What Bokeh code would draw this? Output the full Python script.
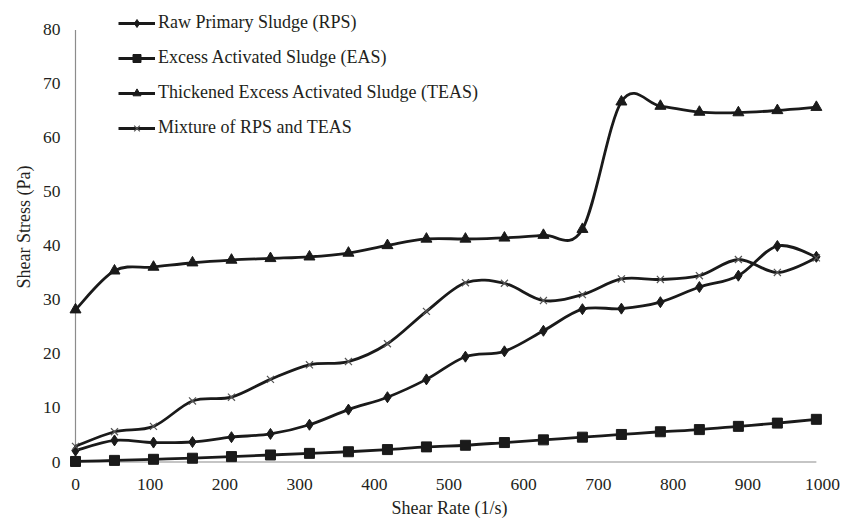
import numpy as np
from bokeh.plotting import figure
from bokeh.models import FixedTicker, Range1d, Legend, LegendItem, Title
from bokeh.embed import file_html
from bokeh.resources import INLINE

# ---------------- data ----------------
shear_rate = [0, 52.2, 104.4, 156.6, 208.8, 261.0, 313.2, 365.4, 417.6, 469.8,
              522.0, 574.2, 626.4, 678.6, 730.8, 783.0, 835.2, 887.4, 939.6, 991.8]
rps = [2.1, 4.0, 3.6, 3.7, 4.6, 5.2, 6.9, 9.7, 12.0, 15.3,
       19.5, 20.5, 24.3, 28.3, 28.4, 29.6, 32.4, 34.5, 40.0, 38.0]
eas = [0.1, 0.3, 0.5, 0.7, 1.0, 1.3, 1.6, 1.9, 2.3, 2.8,
       3.1, 3.6, 4.1, 4.6, 5.1, 5.6, 6.0, 6.6, 7.2, 7.9]
teas = [28.2, 35.4, 36.1, 36.9, 37.4, 37.7, 38.0, 38.7, 40.1, 41.3,
        41.3, 41.5, 42.0, 43.1, 66.7, 65.9, 64.8, 64.7, 65.1, 65.7]
mix = [2.9, 5.6, 6.6, 11.3, 12.0, 15.3, 18.0, 18.6, 21.9, 27.9,
       33.2, 33.1, 29.9, 31.0, 33.9, 33.8, 34.5, 37.5, 35.1, 37.8]
series_names = ["Raw Primary Sludge (RPS)", "Excess Activated Sludge (EAS)",
                "Thickened Excess Activated Sludge (TEAS)", "Mixture of RPS and TEAS"]
x_ticks = [0, 100, 200, 300, 400, 500, 600, 700, 800, 900, 1000]
y_ticks = [0, 10, 20, 30, 40, 50, 60, 70, 80]

# ---------------- style ----------------
FONT = "Liberation Serif"
TXT = "#231f20"
LINE = "#1a1a1a"
AXIS = "#8c8c8c"

p = figure(width=843, height=519, frame_width=766, frame_height=462,
           min_border_left=66, min_border_right=11, min_border_top=8, min_border_bottom=49,
           x_range=Range1d(-12.05, 1013.4), y_range=Range1d(-1.574, 83.98),
           output_backend="svg", toolbar_location=None)
p.outline_line_color = None
p.grid.visible = False
p.background_fill_color = "white"
p.border_fill_color = "white"

for ax in (p.xaxis[0], p.yaxis[0]):
    ax.axis_line_color = None
    ax.major_tick_line_color = None
    ax.minor_tick_line_color = None
    ax.major_tick_out = 0
    ax.major_tick_in = 0
    ax.minor_tick_out = 0
    ax.minor_tick_in = 0
    ax.major_label_text_font = FONT
    ax.major_label_text_font_size = "17.5px"
    ax.major_label_text_color = TXT

p.xaxis.ticker = FixedTicker(ticks=x_ticks)
p.yaxis.ticker = FixedTicker(ticks=y_ticks)
p.xaxis.major_label_standoff = 8
p.yaxis.major_label_standoff = 6
p.xaxis.axis_label = "Shear Rate (1/s)"
p.xaxis.axis_label_text_font = FONT
p.xaxis.axis_label_text_font_size = "18px"
p.xaxis.axis_label_text_font_style = "normal"
p.xaxis.axis_label_text_color = TXT
p.xaxis.axis_label_standoff = 5

p.add_layout(Title(text="Shear Stress (Pa)", align="left", offset=182,
                   text_font=FONT, text_font_size="18px", text_font_style="normal",
                   text_color=TXT, standoff=12), "left")

# axis lines
p.segment(x0=[shear_rate[0]], y0=[y_ticks[0]], x1=[shear_rate[-1]], y1=[y_ticks[0]],
          line_color=AXIS, line_width=1.2)
p.segment(x0=[x_ticks[0]], y0=[y_ticks[0]], x1=[x_ticks[0]], y1=[y_ticks[-1]],
          line_color=AXIS, line_width=1.2)


def smooth(xs, ys):
    xs = np.asarray(xs, float)
    ys = np.asarray(ys, float)
    n = len(xs)
    xp = np.concatenate([[xs[0]], xs, [xs[-1]]])
    yp = np.concatenate([[ys[0]], ys, [ys[-1]]])
    cx0 = xp[1:n] + (xp[2:n + 1] - xp[0:n - 1]) / 6
    cy0 = yp[1:n] + (yp[2:n + 1] - yp[0:n - 1]) / 6
    cx1 = xp[2:n + 1] - (xp[3:n + 2] - xp[1:n]) / 6
    cy1 = yp[2:n + 1] - (yp[3:n + 2] - yp[1:n]) / 6
    return dict(x0=xs[:-1], y0=ys[:-1], x1=xs[1:], y1=ys[1:],
                cx0=cx0, cy0=cy0, cx1=cx1, cy1=cy1)


markers = [("diamond", 11, LINE, 1), ("square", 10, LINE, 1),
           ("triangle", 11, LINE, 1), ("x", 10, "#555555", 1.2)]
all_series = [rps, eas, teas, mix]

# off-canvas sample so the legend can draw a line swatch
off_x = [-9000, -8000]
off_y = [-9000, -9000]

items = []
for name, ys, (mk, sz, mcol, mlw) in zip(series_names, all_series, markers):
    b = smooth(shear_rate, ys)
    p.bezier(x0=b["x0"], y0=b["y0"], x1=b["x1"], y1=b["y1"],
             cx0=b["cx0"], cy0=b["cy0"], cx1=b["cx1"], cy1=b["cy1"],
             line_color=LINE, line_width=2.8)
    if mk == "x":
        sr = p.scatter(shear_rate, ys, marker=mk, size=sz, line_color=mcol, line_width=mlw)
    else:
        sr = p.scatter(shear_rate, ys, marker=mk, size=sz, fill_color=mcol,
                       line_color=mcol, line_width=mlw)
    lr = p.line(x=off_x, y=off_y, line_color=LINE, line_width=2.8)
    items.append(LegendItem(label=name, renderers=[lr, sr]))

legend = Legend(items=items, location=(52, 332), orientation="vertical",
                glyph_width=37, glyph_height=20, label_height=20, label_standoff=3,
                spacing=14, padding=0, margin=0, border_line_color=None,
                background_fill_alpha=0, label_text_font=FONT,
                label_text_font_size="18px", label_text_color=TXT)
p.add_layout(legend, "center")

open("out.html", "w").write(file_html(p, INLINE))
